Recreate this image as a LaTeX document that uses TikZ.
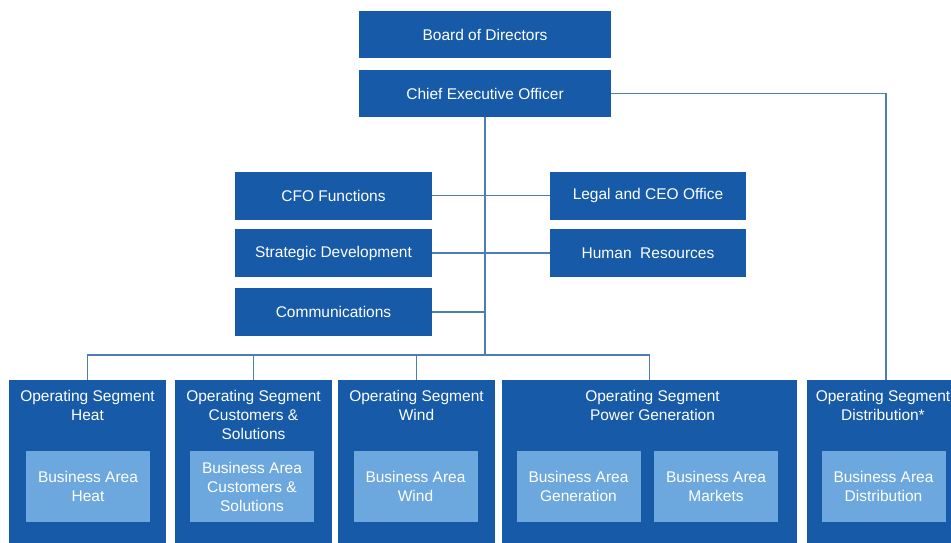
\documentclass[tikz,border=0pt]{standalone}
\usepackage{fontspec}
\setmainfont{Liberation Sans}
\definecolor{darkblue}{RGB}{22,90,168}
\definecolor{lightblue}{RGB}{108,168,222}
\definecolor{linkblue}{RGB}{78,124,182}
\begin{document}
\begin{tikzpicture}[x=1pt,y=-1pt,
  every node/.style={font=\fontsize{15.5}{19}\selectfont, text=white, align=center},
  topbox/.style={fill=darkblue, minimum width=252pt, minimum height=47pt, inner sep=0pt},
  staffbox/.style={fill=darkblue, minimum width=197pt, minimum height=48pt, inner sep=0pt},
  segbox/.style={fill=darkblue, minimum height=180pt, inner sep=0pt},
  areabox/.style={fill=lightblue, minimum width=124pt, minimum height=71pt, inner sep=0pt},
  seglabel/.style={anchor=north, inner sep=0pt, yshift=-10pt},
  link/.style={draw=linkblue, line width=1.6pt}]
\useasboundingbox (0,0) rectangle (951,543);
\clip (0,0) rectangle (951,543);

% top management
\node[topbox] (board) at (485,34.5) {Board of Directors};
\node[topbox] (ceo) at (485,93.5) {Chief Executive Officer};

% staff functions
\node[staffbox] (cfo) at (333.5,195.5) {CFO Functions};
\node[staffbox] (strat) at (333.5,253) {Strategic Development};
\node[staffbox] (comm) at (333.5,312) {Communications};
\node[staffbox, minimum width=196pt] (legal) at (648,195.5) {Legal and CEO Office};
\node[staffbox, minimum width=196pt] (hr) at (648,253) {Human\ \ Resources};

% operating segments
\node[segbox, minimum width=157pt, label={[seglabel]north:Operating Segment\\Heat}] (heat) at (87.5,470) {};
\node[segbox, minimum width=157pt, label={[seglabel]north:Operating Segment\\Customers \&\\Solutions}] (cust) at (253.5,470) {};
\node[segbox, minimum width=157pt, label={[seglabel]north:Operating Segment\\Wind}] (wind) at (416.5,470) {};
\node[segbox, minimum width=295pt, label={[seglabel, xshift=3pt]north:Operating Segment\\Power Generation}] (power) at (649.5,470) {};
\node[segbox, minimum width=158pt, label={[seglabel, xshift=-3pt]north:Operating Segment\\Distribution*}] (dist) at (886,470) {};

% business areas
\node[areabox] (baheat) at (88,486.5) {Business Area\\Heat};
\node[areabox] (bacust) at (252,486.5) {Business Area\\Customers \&\\Solutions};
\node[areabox] (bawind) at (415.5,486.5) {Business Area\\Wind};
\node[areabox] (bagen) at (578.5,486.5) {Business Area\\Generation};
\node[areabox] (bamkt) at (716,486.5) {Business Area\\Markets};
\node[areabox] (badist) at (883.5,486.5) {Business Area\\Distribution};

% reporting lines
\coordinate (bus) at (485,355);
\draw[link] (ceo.south) -- (bus);
\draw[link] (cfo.east) -- (legal.west);
\draw[link] (strat.east) -- (hr.west);
\draw[link] (comm.east) -- (comm.east -| bus);
\draw[link] (heat.north) -- (heat.north |- bus) -- (power.north |- bus) -- (power.north);
\draw[link] (cust.north) -- (cust.north |- bus);
\draw[link] (wind.north) -- (wind.north |- bus);
\draw[link] (ceo.east) -- (ceo.east -| dist.north) -- (dist.north);
\end{tikzpicture}
\end{document}
